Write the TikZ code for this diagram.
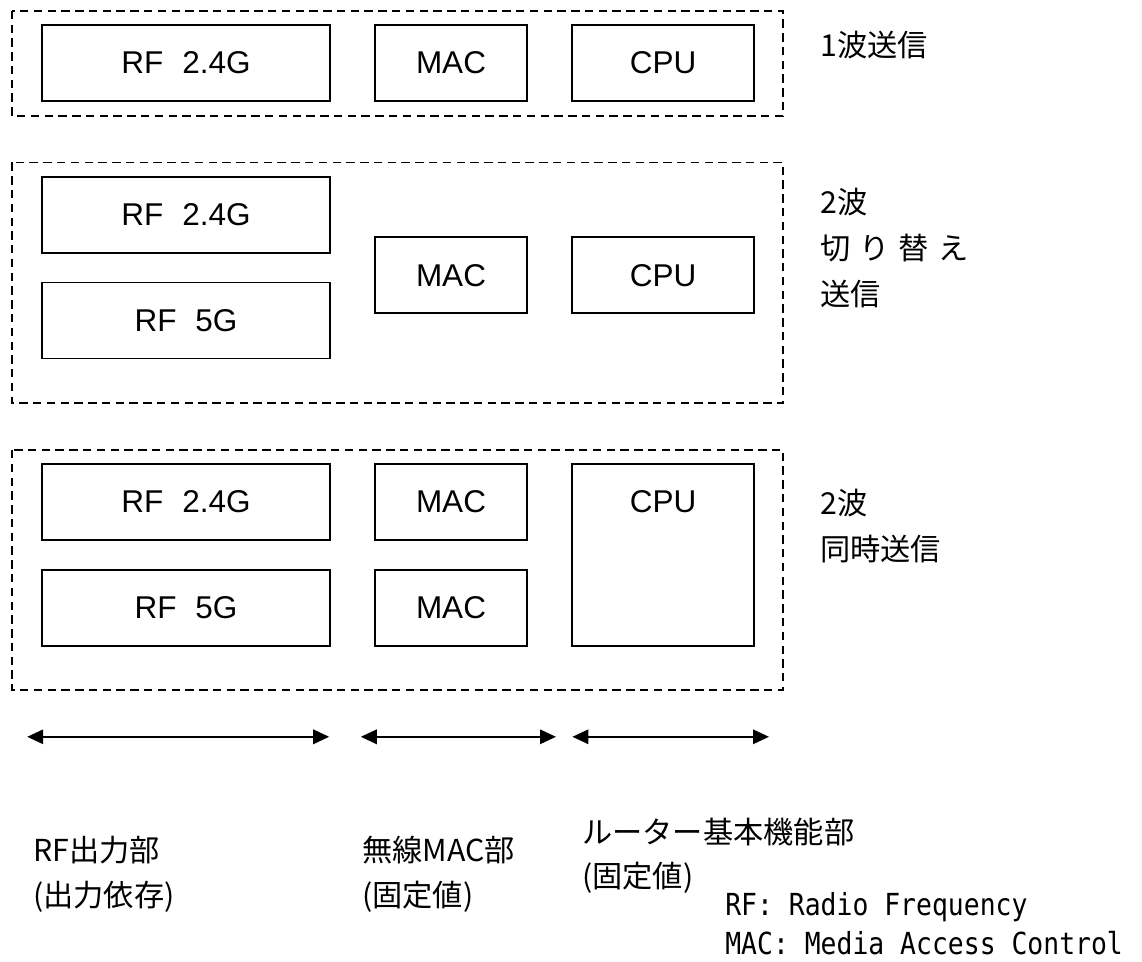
\documentclass[tikz,border=0pt]{standalone}
\usepackage{fontspec}
\setmainfont{Liberation Sans}
\newfontfamily\jpfont{Noto Sans CJK JP}
\newfontfamily\codefont[FakeStretch=0.87]{DejaVu Sans Mono}
\usetikzlibrary{arrows.meta}

\tikzset{
  blk/.style={draw, line width=1.2pt, minimum height=1.9cm, inner sep=0pt,
    font=\fontsize{22.4}{26}\selectfont},
  grpbox/.style={draw, line width=1pt, dash pattern=on 6pt off 3.8pt},
  lbl/.style={anchor=west, inner sep=0pt, font=\jpfont\fontsize{21.5}{25}\selectfont},
  abbr/.style={anchor=west, inner sep=0pt, font=\codefont\fontsize{21.6}{25}\selectfont},
  dimarrow/.style={line width=1.4pt,
    {Triangle[length=0.4cm,width=0.36cm]}-{Triangle[length=0.4cm,width=0.36cm]}},
}

\begin{document}
\begin{tikzpicture}
      \useasboundingbox (0,0) rectangle (28.55,-24.05);

      \draw[grpbox] (0.3,-0.27) rectangle (19.575,-2.9);
      \draw[grpbox] (0.3,-4.06) rectangle (19.575,-10.08);
      \draw[grpbox] (0.3,-11.25) rectangle (19.575,-17.25);

      \node[blk, minimum width=7.2cm] (rfA) at (4.65,-1.575) {RF\hspace{.6em}2.4G};
      \node[blk, minimum width=3.8cm] (macA) at (11.275,-1.575) {MAC};
      \node[blk, minimum width=4.55cm] (cpuA) at (16.575,-1.575) {CPU};

      \node[blk, minimum width=7.2cm] (rfB) at (4.65,-5.375) {RF\hspace{.6em}2.4G};
      \node[blk, minimum width=7.2cm] (rfBb) at (4.65,-8.0125) {RF\hspace{.6em}5G};
      \node[blk, minimum width=3.8cm] (macB) at (11.275,-6.883) {MAC};
      \node[blk, minimum width=4.55cm] (cpuB) at (16.575,-6.883) {CPU};

      \node[blk, minimum width=7.2cm] (rfC) at (4.65,-12.55) {RF\hspace{.6em}2.4G};
      \node[blk, minimum width=7.2cm] (rfCb) at (4.65,-15.2) {RF\hspace{.6em}5G};
      \node[blk, minimum width=3.8cm] (macC) at (11.275,-12.55) {MAC};
      \node[blk, minimum width=3.8cm] (macCb) at (11.275,-15.2) {MAC};
      \node[blk, minimum width=4.55cm, minimum height=4.55cm] (cpuC) at (16.575,-13.875) {};
      \node[font=\fontsize{22.4}{26}\selectfont] (cpuCtext) at ([yshift=-0.95cm]cpuC.north) {CPU};

      \node[lbl] (modeA) at (20.5,-1.125) {1波送信};
      \node[lbl] (modeB) at (20.5,-5.05) {2波};
      \node[lbl] (modeBb) at (20.5,-6.2) {切\hspace{.3em}り\hspace{.3em}替\hspace{.3em}え};
      \node[lbl] (modeBc) at (20.5,-7.35) {送信};
      \node[lbl] (modeC) at (20.5,-12.575) {2波};
      \node[lbl] (modeCb) at (20.5,-13.725) {同時送信};

      \coordinate (spanAl) at (0.68,-18.42);
      \coordinate (spanAr) at (8.23,-18.42);
      \coordinate (spanBl) at (9.02,-18.42);
      \coordinate (spanBr) at (13.9,-18.42);
      \coordinate (spanCl) at (14.31,-18.42);
      \coordinate (spanCr) at (19.225,-18.42);
      \draw[dimarrow] (spanAl) -- (spanAr);
      \draw[dimarrow] (spanBl) -- (spanBr);
      \draw[dimarrow] (spanCl) -- (spanCr);

      \node[lbl] (partA) at (0.825,-21.25) {RF出力部};
      \node[lbl] (partAb) at (0.825,-22.425) {(出力依存)};
      \node[lbl] (partB) at (9.05,-21.25) {無線MAC部};
      \node[lbl] (partBb) at (9.05,-22.425) {(固定値)};
      \node[lbl] (partC) at (14.55,-20.8) {ルーター基本機能部};
      \node[lbl] (partCb) at (14.55,-21.95) {(固定値)};

      \node[abbr] (abbrRF) at (18.125,-22.675) {RF: Radio Frequency};
      \node[abbr] (abbrMAC) at (18.125,-23.575) {MAC: Media Access Control};
\end{tikzpicture}
\end{document}
